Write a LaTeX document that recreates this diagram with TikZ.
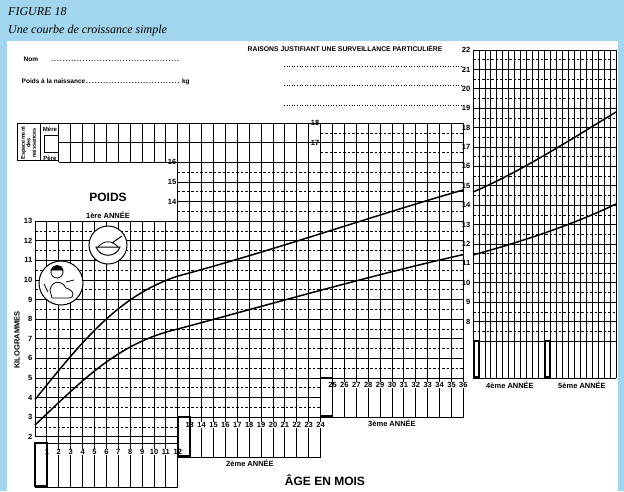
\documentclass[tikz,border=0pt]{standalone}
\usepackage{fontspec}
\setmainfont{Liberation Sans}
\newfontfamily\serifit{Liberation Serif}
\definecolor{bgblue}{RGB}{162,214,238}
\begin{document}
\begin{tikzpicture}[x=1pt,y=-1pt,
  kl/.style={font=\bfseries\fontsize{7.5}{8}\selectfont,inner sep=0.5pt},
  ml/.style={font=\bfseries\fontsize{7.5}{8}\selectfont,inner sep=0.3pt,fill=white},
  gl/.style={line width=1pt,black},
  dl/.style={line width=0.8pt,black,dash pattern=on 2.5pt off 2pt},
  thick box/.style={line width=1.7pt},
  curve/.style={line width=1.5pt}]
\useasboundingbox (0,0) rectangle (624,491);
\fill[bgblue] (0,0) rectangle (624,491);
\fill[white] (7,41) rectangle (618,491);
\node[anchor=west,font=\serifit\itshape\fontsize{12}{13}\selectfont,inner sep=0] (fig) at (8,12) {FIGURE 18};
\node[anchor=west,font=\serifit\itshape\fontsize{12}{13}\selectfont,inner sep=0] (sub) at (8,31) {Une courbe de croissance simple};
% header texts
\node[anchor=west,kl,font=\bfseries\fontsize{6.5}{7}\selectfont] (nom) at (23,59) {Nom\hspace{12pt}\makebox[130pt]{\dotfill}};
\node[anchor=west,kl,font=\bfseries\fontsize{6.5}{7}\selectfont] (pn) at (21,82) {Poids à la naissance\makebox[95pt]{\dotfill} kg};
\node[anchor=west,kl,font=\bfseries\fontsize{6.8}{7}\selectfont] (rais) at (247,49) {RAISONS JUSTIFIANT UNE SURVEILLANCE PARTICULIÈRE};
\foreach \yy in {66,85,105}{\draw[dotted,line width=0.6pt] (284,\yy) -- (462,\yy);}
% grid macro
\newcommand\mygrid[4]{%
  \foreach \k in {#3,...,#4}{\draw[gl] ({35+11.9*#1},{476-19.6*\k}) -- ({35+11.9*#2},{476-19.6*\k});}
  \pgfmathtruncatemacro\ktop{#4-1}
  \foreach \k in {#3,...,\ktop}{\draw[dl] ({35+11.9*#1},{476-19.6*(\k+0.5)}) -- ({35+11.9*#2},{476-19.6*(\k+0.5)});}
  \foreach \m in {#1,...,#2}{\draw[gl] ({35+11.9*\m},{476-19.6*#3}) -- ({35+11.9*\m},{476-19.6*#4});}
}
\mygrid{0}{12}{2}{13}
\mygrid{12}{24}{3}{16}
\mygrid{24}{36}{5}{18}
% espacement rows
\foreach \k in {16,17,18}{\draw[gl] ({35+11.9*2},{476-19.6*\k}) -- ({35+11.9*24},{476-19.6*\k});}
\foreach \m in {2,...,24}{\draw[gl] ({35+11.9*\m},{476-19.6*16}) -- ({35+11.9*\m},{476-19.6*18});}
\draw[gl] (17,{476-19.6*18}) rectangle ({35+11.9*2},{476-19.6*16.1});
\draw[gl] (40,{476-19.6*18}) -- (40,{476-19.6*16.1});
\node[rotate=90,font=\bfseries\fontsize{5.5}{5.5}\selectfont,align=center,inner sep=0] (esp) at (28.5,143) {Espacement\\des\\naissances};
\node[font=\bfseries\fontsize{6}{6}\selectfont,inner sep=0] (mere) at (50,129) {Mère};
\node[font=\bfseries\fontsize{6}{6}\selectfont,inner sep=0] (pere) at (50,158) {Père};
\draw[gl] (44,135) rectangle (58,152);
% kg labels
\foreach \k in {2,...,13}{\node[kl,anchor=east] at (33,{476-19.6*\k}) {\k};}
\foreach \k in {14,15,16}{\node[kl,anchor=east] at (177,{476-19.6*\k}) {\k};}
\foreach \k in {17,18}{\node[kl,anchor=east] at (320,{476-19.6*\k}) {\k};}
% bottom boxes
\draw[gl] (35,443) rectangle ({35+11.9*12},487);
\foreach \m in {1,...,12}{\draw[gl] ({35+11.9*\m},437) -- ({35+11.9*\m},487); \node[ml] at ({35+11.9*\m},452) {\m};}
\draw[thick box] (35,443) rectangle ({35+11.9},486);
\draw[gl] ({35+11.9*12},417) rectangle ({35+11.9*24},457);
\foreach \m in {13,...,24}{\draw[gl] ({35+11.9*\m},417) -- ({35+11.9*\m},457); \node[ml] at ({35+11.9*\m},425) {\m};}
\draw[thick box] ({35+11.9*12},417) rectangle ({35+11.9*13},456);
\draw[gl] ({35+11.9*24},378) rectangle ({35+11.9*36},417);
\foreach \m in {25,...,36}{\draw[gl] ({35+11.9*\m},378) -- ({35+11.9*\m},417); \node[ml] at ({35+11.9*\m},385) {\m};}
\draw[thick box] ({35+11.9*24},378) rectangle ({35+11.9*25},416);
\node[kl] (a2) at (250,463) {2ème ANNÉE};
\node[kl] (a3) at (392,423) {3ème ANNÉE};
\node[font=\bfseries\fontsize{12}{13}\selectfont] (age) at (325,480) {ÂGE EN MOIS};
\node[font=\bfseries\fontsize{12}{13}\selectfont] (poids) at (108,197) {POIDS};
\node[kl] (a1) at (108,215) {1ère ANNÉE};
\node[rotate=90,font=\bfseries\fontsize{7.5}{8}\selectfont] (kilo) at (17,340) {KILOGRAMMES};
% icons
\draw[fill=white,line width=1pt] (108,245) circle (19);
\draw[line width=1pt] (96,247) .. controls (100,258) and (116,258) .. (120,247) -- cycle;
\draw[line width=0.8pt] (98,247) .. controls (104,240) and (112,240) .. (118,247);
\draw[line width=1pt] (112,243) -- (122,236);
\draw[fill=white,line width=1pt] (61,283) circle (22);
\draw[line width=0.8pt] (57,272) circle (6);
\draw[line width=0.8pt,fill=black] (51,270) .. controls (53,264) and (62,264) .. (63,270) -- cycle;
\draw[line width=0.8pt] (50,290) .. controls (52,280) and (62,280) .. (66,288) .. controls (74,290) and (76,298) .. (68,298) -- (52,298) -- cycle;
\draw[line width=0.8pt] (48,292) -- (44,284) (66,282) -- (74,280);
% curves
\draw[curve] (35,{476-19.6*3.9}) .. controls ({35+11.9*4},{476-19.6*6.9}) and ({35+11.9*7},{476-19.6*9.2}) .. ({35+11.9*12},{476-19.6*10.2}) .. controls ({35+11.9*20},{476-19.6*11.5}) and ({35+11.9*28},{476-19.6*13.2}) .. ({35+11.9*36},{476-19.6*14.6});
\draw[curve] (35,{476-19.6*2.6}) .. controls ({35+11.9*4},{476-19.6*4.9}) and ({35+11.9*7},{476-19.6*6.8}) .. ({35+11.9*12},{476-19.6*7.5}) .. controls ({35+11.9*20},{476-19.6*8.8}) and ({35+11.9*28},{476-19.6*10.2}) .. ({35+11.9*36},{476-19.6*11.3});
% years 4-5
\foreach \k in {7,...,22}{\draw[gl] (473,{50+19.4*(22-\k)}) -- (616,{50+19.4*(22-\k)});}
\foreach \k in {7,...,21}{\draw[dl] (473,{50+19.4*(21.5-\k)}) -- (616,{50+19.4*(21.5-\k)});}
\foreach \m in {0,...,24}{\draw[line width=0.8pt,black] ({473+5.96*\m},50) -- ({473+5.96*\m},378);}
\draw[gl] (473,378) -- (616,378);
\draw[thick box] (474,341) rectangle (479,377);
\draw[thick box] (545,341) rectangle (550,377);
\foreach \k in {8,...,22}{\node[kl,anchor=east] at (471,{50+19.4*(22-\k)}) {\k};}
\node[kl] (a4) at (510,385) {4ème ANNÉE};
\node[kl] (a5) at (582,385) {5ème ANNÉE};
\draw[curve] (473,192) .. controls (520,172) and (570,140) .. (616,112);
\draw[curve] (473,255) .. controls (520,242) and (570,226) .. (616,204);
\end{tikzpicture}
\end{document}
